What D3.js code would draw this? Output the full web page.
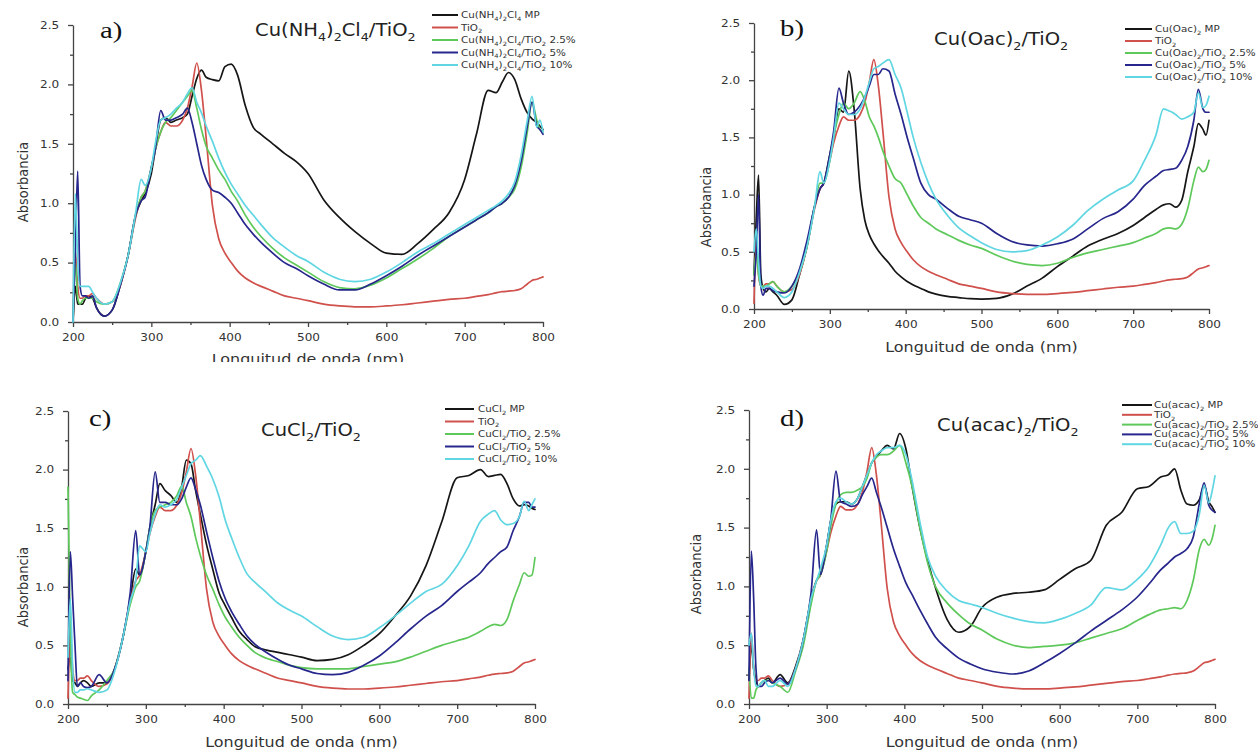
<!DOCTYPE html>
<html><head><meta charset="utf-8">
<script src="https://cdn.jsdelivr.net/npm/d3@7"></script>
<style>body{margin:0;background:#fff} svg{display:block}</style>
</head><body>
<svg id="chart" width="1258" height="752"></svg>
<script>
// ---------- DATA ----------
const wavelengths = [200,203,206,209,212,216,220,225,230,240,
  250,260,270,280,287,292,300,305,312,318,
  325,332,340,346,352,358,364,370,378,386,
  394,402,410,420,430,440,455,470,485,500,
  520,540,560,580,600,620,640,660,680,700,
  715,730,740,748,756,764,772,780,786,792,
  796,800];

const tio2 = [0.05,0.6,0.3,0.2,0.2,0.22,0.22,0.24,0.2,0.15,
  0.17,0.3,0.55,0.88,1.05,1.1,1.3,1.45,1.6,1.68,
  1.65,1.65,1.7,1.8,1.98,2.18,1.95,1.55,0.98,0.7,
  0.58,0.5,0.43,0.37,0.33,0.3,0.26,0.22,0.2,0.18,
  0.15,0.135,0.128,0.128,0.135,0.145,0.16,0.175,0.19,0.2,
  0.215,0.23,0.245,0.255,0.26,0.265,0.28,0.32,0.35,0.36,
  0.37,0.38];

// a) Cu(NH4)2Cl4/TiO2
const aMP = [0.0,0.3,0.15,0.15,0.15,0.2,0.22,0.2,0.12,0.05,
  0.1,0.3,0.55,0.9,1.02,1.08,1.25,1.45,1.7,1.72,
  1.68,1.7,1.72,1.75,1.9,2.05,2.12,2.06,2.04,2.03,
  2.15,2.17,2.08,1.82,1.64,1.58,1.5,1.42,1.35,1.25,
  1.03,0.88,0.76,0.66,0.58,0.57,0.66,0.78,0.92,1.2,
  1.58,1.95,1.93,2.02,2.1,2.04,1.88,1.76,1.71,1.68,
  1.65,1.62];
const a25 = [0.0,0.5,0.2,0.15,0.18,0.2,0.2,0.2,0.17,0.15,
  0.17,0.32,0.55,0.9,1.05,1.1,1.3,1.45,1.6,1.68,
  1.72,1.78,1.85,1.9,1.95,1.8,1.62,1.48,1.38,1.28,
  1.2,1.1,1.02,0.9,0.8,0.72,0.62,0.54,0.48,0.42,
  0.34,0.29,0.28,0.31,0.37,0.45,0.53,0.62,0.72,0.8,
  0.86,0.92,0.97,1.0,1.05,1.12,1.3,1.6,1.85,1.7,
  1.62,1.6];
const a5 = [0.0,0.6,1.27,0.3,0.22,0.22,0.2,0.22,0.12,0.05,
  0.1,0.3,0.55,0.9,1.02,1.05,1.3,1.45,1.78,1.7,
  1.7,1.72,1.75,1.8,1.68,1.5,1.32,1.2,1.11,1.09,
  1.05,1.0,0.92,0.82,0.74,0.67,0.58,0.5,0.45,0.39,
  0.32,0.27,0.27,0.32,0.39,0.47,0.56,0.64,0.72,0.8,
  0.86,0.92,0.97,1.0,1.05,1.15,1.35,1.65,1.85,1.65,
  1.62,1.58];
const a10 = [0.0,1.08,0.5,0.3,0.3,0.3,0.3,0.25,0.2,0.15,
  0.17,0.32,0.55,0.92,1.2,1.15,1.3,1.5,1.7,1.72,
  1.75,1.8,1.85,1.92,1.97,1.85,1.76,1.65,1.52,1.38,
  1.26,1.16,1.08,0.98,0.9,0.82,0.71,0.63,0.56,0.51,
  0.42,0.36,0.34,0.36,0.42,0.5,0.59,0.66,0.74,0.82,
  0.88,0.94,0.98,1.02,1.08,1.18,1.4,1.7,1.9,1.64,
  1.7,1.6];

// b) Cu(Oac)2/TiO2
const bMP = [0.3,0.8,1.17,0.3,0.18,0.15,0.18,0.15,0.12,0.04,
  0.08,0.3,0.55,0.9,1.05,1.1,1.35,1.5,1.75,1.72,
  2.08,1.75,1.05,0.78,0.65,0.57,0.51,0.46,0.4,0.33,
  0.28,0.24,0.21,0.18,0.15,0.13,0.11,0.1,0.09,0.087,
  0.093,0.13,0.2,0.27,0.37,0.46,0.55,0.61,0.66,0.73,
  0.8,0.87,0.91,0.92,0.89,0.95,1.2,1.42,1.62,1.57,
  1.52,1.65];
const b25 = [0.3,0.5,0.3,0.2,0.2,0.2,0.22,0.24,0.2,0.15,
  0.2,0.32,0.55,0.9,1.1,1.1,1.3,1.5,1.7,1.8,
  1.75,1.8,1.9,1.82,1.68,1.6,1.5,1.38,1.25,1.14,
  1.1,1.0,0.9,0.8,0.75,0.7,0.65,0.6,0.56,0.53,
  0.47,0.42,0.39,0.38,0.4,0.45,0.49,0.52,0.55,0.58,
  0.62,0.66,0.7,0.71,0.7,0.74,0.88,1.12,1.24,1.2,
  1.22,1.3];
const b5 = [0.2,0.5,1.0,0.2,0.12,0.18,0.18,0.16,0.15,0.14,
  0.2,0.35,0.6,0.9,1.05,1.1,1.35,1.55,1.93,1.8,
  1.7,1.72,1.78,1.85,1.95,2.05,2.05,2.1,2.08,1.88,
  1.7,1.5,1.32,1.1,1.0,0.96,0.88,0.81,0.78,0.75,
  0.66,0.59,0.56,0.55,0.57,0.61,0.7,0.79,0.85,0.96,
  1.08,1.16,1.21,1.22,1.23,1.3,1.42,1.65,1.92,1.75,
  1.72,1.72];
const b10 = [0.5,0.7,0.4,0.2,0.18,0.2,0.2,0.18,0.15,0.1,
  0.15,0.32,0.55,0.9,1.2,1.1,1.3,1.5,1.8,1.75,
  1.7,1.7,1.75,1.85,1.98,2.1,2.12,2.15,2.18,2.05,
  1.93,1.72,1.5,1.28,1.1,0.96,0.82,0.71,0.64,0.58,
  0.52,0.5,0.51,0.56,0.63,0.73,0.86,0.96,1.04,1.12,
  1.3,1.52,1.75,1.73,1.7,1.66,1.68,1.72,1.89,1.76,
  1.78,1.86];

// c) CuCl2/TiO2
const cMP = [0.3,0.4,0.2,0.18,0.15,0.18,0.2,0.18,0.15,0.18,
  0.18,0.3,0.55,0.9,1.15,1.1,1.3,1.5,1.7,1.88,
  1.82,1.78,1.72,1.85,2.08,2.05,1.82,1.62,1.36,1.15,
  0.95,0.84,0.74,0.62,0.55,0.49,0.46,0.44,0.42,0.4,
  0.37,0.38,0.42,0.5,0.6,0.75,0.92,1.18,1.55,1.93,
  1.95,2.0,1.94,1.95,1.96,1.88,1.75,1.69,1.7,1.69,
  1.67,1.66];
const c25 = [1.85,0.6,0.1,0.08,0.06,0.05,0.04,0.03,0.07,0.12,
  0.2,0.3,0.55,0.85,1.0,1.05,1.3,1.5,1.65,1.68,
  1.7,1.72,1.78,1.86,1.72,1.6,1.42,1.27,1.1,0.98,
  0.85,0.74,0.66,0.57,0.5,0.44,0.39,0.36,0.33,0.31,
  0.3,0.3,0.3,0.32,0.34,0.36,0.4,0.45,0.5,0.54,
  0.57,0.62,0.66,0.68,0.67,0.72,0.88,1.02,1.12,1.09,
  1.1,1.25];
const c5 = [0.2,1.3,0.9,0.5,0.15,0.18,0.15,0.14,0.15,0.25,
  0.18,0.3,0.55,0.95,1.48,1.1,1.3,1.5,1.98,1.72,
  1.72,1.7,1.7,1.75,1.85,1.93,1.83,1.7,1.47,1.25,
  1.05,0.9,0.79,0.68,0.58,0.51,0.44,0.38,0.33,0.3,
  0.26,0.25,0.27,0.33,0.41,0.52,0.64,0.75,0.84,0.96,
  1.04,1.12,1.2,1.25,1.3,1.34,1.48,1.6,1.72,1.72,
  1.68,1.68];
const c10 = [0.4,0.9,0.3,0.1,0.1,0.12,0.12,0.13,0.12,0.1,
  0.12,0.28,0.55,0.88,1.05,1.35,1.3,1.45,1.62,1.7,
  1.68,1.7,1.75,1.85,1.95,2.05,2.08,2.12,2.03,1.92,
  1.77,1.57,1.42,1.25,1.11,1.04,0.95,0.86,0.8,0.75,
  0.66,0.58,0.55,0.57,0.65,0.75,0.86,0.96,1.02,1.18,
  1.35,1.56,1.62,1.65,1.57,1.53,1.54,1.6,1.73,1.65,
  1.7,1.75];

// d) Cu(acac)2/TiO2
const dMP = [0.2,0.5,0.3,0.2,0.15,0.18,0.2,0.22,0.18,0.25,
  0.18,0.32,0.55,0.9,1.05,1.1,1.35,1.55,1.7,1.72,
  1.72,1.7,1.75,1.85,1.95,2.05,2.1,2.15,2.2,2.17,
  2.3,2.17,1.85,1.5,1.22,0.99,0.72,0.61,0.66,0.82,
  0.91,0.94,0.95,0.97,1.06,1.15,1.22,1.52,1.63,1.83,
  1.85,1.93,1.95,2.0,1.82,1.7,1.69,1.74,1.86,1.72,
  1.68,1.63];
const d25 = [0.3,0.05,0.05,0.12,0.15,0.18,0.2,0.2,0.18,0.15,
  0.1,0.28,0.5,0.85,1.05,1.1,1.3,1.5,1.7,1.78,
  1.8,1.8,1.82,1.85,1.92,2.05,2.1,2.12,2.12,2.15,
  2.2,2.05,1.85,1.5,1.2,1.0,0.86,0.76,0.68,0.63,
  0.55,0.5,0.48,0.49,0.5,0.52,0.56,0.6,0.64,0.71,
  0.76,0.8,0.81,0.82,0.81,0.88,1.05,1.32,1.4,1.35,
  1.4,1.52];
const d5 = [0.2,1.3,0.9,0.3,0.15,0.15,0.18,0.2,0.18,0.22,
  0.17,0.3,0.55,0.95,1.48,1.1,1.35,1.55,1.98,1.72,
  1.7,1.68,1.7,1.78,1.85,1.92,1.8,1.68,1.5,1.32,
  1.17,1.03,0.93,0.8,0.68,0.57,0.47,0.39,0.34,0.3,
  0.27,0.255,0.28,0.35,0.43,0.52,0.62,0.71,0.8,0.91,
  1.02,1.14,1.2,1.25,1.28,1.32,1.42,1.71,1.88,1.69,
  1.65,1.63];
const d10 = [0.5,0.6,0.3,0.15,0.15,0.18,0.2,0.15,0.15,0.2,
  0.15,0.3,0.55,0.9,1.05,1.15,1.35,1.55,1.72,1.75,
  1.72,1.7,1.75,1.85,1.95,2.05,2.12,2.15,2.18,2.18,
  2.2,2.12,1.9,1.55,1.25,1.09,0.96,0.88,0.85,0.82,
  0.77,0.73,0.7,0.69,0.72,0.77,0.84,0.99,0.97,1.06,
  1.17,1.35,1.5,1.55,1.45,1.45,1.47,1.62,1.86,1.71,
  1.8,1.94];

const xTicks = [200,300,400,500,600,700,800];
const xMinorTicks = [250,350,450,550,650,750];
const yTicks = [0,0.5,1.0,1.5,2.0,2.5];
const yMinorTicks = [0.25,0.75,1.25,1.75,2.25];
const panelLetters = ["a)","b)","c)","d)"];
const titles = ["Cu(NH_4)_2Cl_4/TiO_2","Cu(Oac)_2/TiO_2","CuCl_2/TiO_2","Cu(acac)_2/TiO_2"];
const legendA = ["Cu(NH_4)_2Cl_4 MP","TiO_2","Cu(NH_4)_2Cl_4/TiO_2 2.5%","Cu(NH_4)_2Cl_4/TiO_2 5%","Cu(NH_4)_2Cl_4/TiO_2 10%"];
const legendB = ["Cu(Oac)_2 MP","TiO_2","Cu(Oac)_2/TiO_2 2.5%","Cu(Oac)_2/TiO_2 5%","Cu(Oac)_2/TiO_2 10%"];
const legendC = ["CuCl_2 MP","TiO_2","CuCl_2/TiO_2 2.5%","CuCl_2/TiO_2 5%","CuCl_2/TiO_2 10%"];
const legendD = ["Cu(acac)_2 MP","TiO_2","Cu(acac)_2/TiO_2 2.5%","Cu(acac)_2/TiO_2 5%","Cu(acac)_2/TiO_2 10%"];
const xLabel = "Longuitud de onda (nm)";
const yLabel = "Absorbancia";
const colors = ["#161616","#d0504c","#5ec95a","#26268c","#5fd6e2"];

// ---------- LAYOUT ----------
const panels = [
  {series:[aMP,tio2,a25,a5,a10], legend:legendA, left:73, right:543, top:25, bottom:322,
   letter:[100,38], title:[255,36], leg:{x1:432,x2:458,tx:461,y:15,dy:12.5},
   ylab:[22,182], xlabY:364, clipY:362},
  {series:[bMP,tio2,b25,b5,b10], legend:legendB, left:754, right:1209, top:23, bottom:309,
   letter:[780,36], title:[934,45], leg:{x1:1125,x2:1152,tx:1155,y:29,dy:12},
   ylab:[705,207], xlabY:352},
  {series:[cMP,tio2,c25,c5,c10], legend:legendC, left:68, right:535, top:411, bottom:704,
   letter:[89,426], title:[261,436], leg:{x1:445,x2:474,tx:478,y:409,dy:12.5},
   ylab:[22,587], xlabY:747},
  {series:[dMP,tio2,d25,d5,d10], legend:legendD, left:749, right:1215, top:410, bottom:704,
   letter:[780,426], title:[937,431], leg:{x1:1122,x2:1152,tx:1154,y:405,dy:9.8},
   ylab:[695,574], xlabY:747}
];

const SX = 1.15;
const FONT = "DejaVu Sans, sans-serif";
const svg = d3.select("#chart");
const defs = svg.append("defs");

function richText(parent, x, y, str, fs, opts = {}) {
  const t = parent.append("text")
    .attr("transform", `translate(${x},${y}) scale(${opts.sx || SX},1)` + (opts.rotate ? ` rotate(${opts.rotate})` : ""))
    .attr("font-family", opts.family || FONT)
    .attr("font-size", fs)
    .attr("fill", opts.fill || "#222")
    .attr("text-anchor", opts.anchor || "start");
  const parts = [];
  let i = 0, buf = "";
  while (i < str.length) {
    if (str[i] === "_" && i + 1 < str.length) {
      if (buf) { parts.push({t: buf, sub: false}); buf = ""; }
      parts.push({t: str[i + 1], sub: true}); i += 2;
    } else { buf += str[i]; i++; }
  }
  if (buf) parts.push({t: buf, sub: false});
  let shifted = false;
  parts.forEach(p => {
    const ts = t.append("tspan").text(p.t);
    if (p.sub) {
      ts.attr("font-size", fs * 0.65);
      if (!shifted) { ts.attr("dy", fs * 0.3); shifted = true; }
    } else if (shifted) { ts.attr("dy", -fs * 0.3); shifted = false; }
  });
  return t;
}

function styleAxis(g) {
  g.attr("font-family", FONT).attr("font-size", 10.5);
  g.selectAll(".domain").attr("stroke", "#444").attr("stroke-width", 1.3);
  g.selectAll(".tick line").attr("stroke", "#444").attr("stroke-width", 1.3);
  g.selectAll(".tick text").attr("fill", "#333").attr("transform", `scale(${SX},1)`);
}

panels.forEach((p, pi) => {
  const x = d3.scaleLinear().domain([200, 800]).range([p.left, p.right]);
  const y = d3.scaleLinear().domain([0, 2.5]).range([p.bottom, p.top]);
  const g = svg.append("g");

  // axes
  const gx = g.append("g").attr("transform", `translate(0,${p.bottom})`)
    .call(d3.axisBottom(x).tickValues(xTicks).tickSize(5).tickSizeOuter(0).tickPadding(7).tickFormat(d3.format("d")));
  styleAxis(gx);
  const gxm = g.append("g").attr("transform", `translate(0,${p.bottom})`)
    .call(d3.axisBottom(x).tickValues(xMinorTicks).tickSize(3).tickFormat(""));
  gxm.select(".domain").remove(); styleAxis(gxm);
  const gy = g.append("g").attr("transform", `translate(${p.left},0)`)
    .call(d3.axisLeft(y).tickValues(yTicks).tickSize(5).tickSizeOuter(0).tickPadding(7).tickFormat(d3.format(".1f")));
  styleAxis(gy);
  const gym = g.append("g").attr("transform", `translate(${p.left},0)`)
    .call(d3.axisLeft(y).tickValues(yMinorTicks).tickSize(3).tickFormat(""));
  gym.select(".domain").remove(); styleAxis(gym);

  // curves
  const line = d3.line().x((d, i) => x(wavelengths[i])).y(d => y(d)).curve(d3.curveMonotoneX);
  p.series.forEach((s, k) => {
    g.append("path").attr("d", line(s)).attr("fill", "none")
      .attr("stroke", colors[k]).attr("stroke-width", 1.7)
      .attr("stroke-linejoin", "round").attr("stroke-linecap", "round");
  });

  // axis labels
  const cx = (p.left + p.right) / 2;
  const xl = richText(g, cx, p.xlabY, xLabel, 14, {anchor: "middle", fill: "#333", sx: 1.14});
  if (p.clipY) {
    const id = "clip" + pi;
    defs.append("clipPath").attr("id", id).append("rect")
      .attr("x", 0).attr("y", 0).attr("width", 1258).attr("height", p.clipY);
    const wrap = g.append("g").attr("clip-path", `url(#${id})`);
    wrap.node().appendChild(xl.node());
  }
  richText(g, p.ylab[0] + 5.5, p.ylab[1], yLabel, 13, {anchor: "middle", fill: "#333", rotate: -90});

  // panel letter and title
  richText(g, p.letter[0], p.letter[1], panelLetters[pi], 24, {family: "Liberation Serif, Times New Roman, serif", fill: "#111", sx: 1.2});
  richText(g, p.title[0], p.title[1], titles[pi], 17, {fill: "#222"});

  // legend
  p.legend.forEach((lab, k) => {
    const yy = p.leg.y + k * p.leg.dy;
    g.append("line").attr("x1", p.leg.x1).attr("x2", p.leg.x2).attr("y1", yy).attr("y2", yy)
      .attr("stroke", colors[k]).attr("stroke-width", 2);
    richText(g, p.leg.tx, yy + 3, lab, 9, {fill: "#333"});
  });
});
</script>
</body></html>
